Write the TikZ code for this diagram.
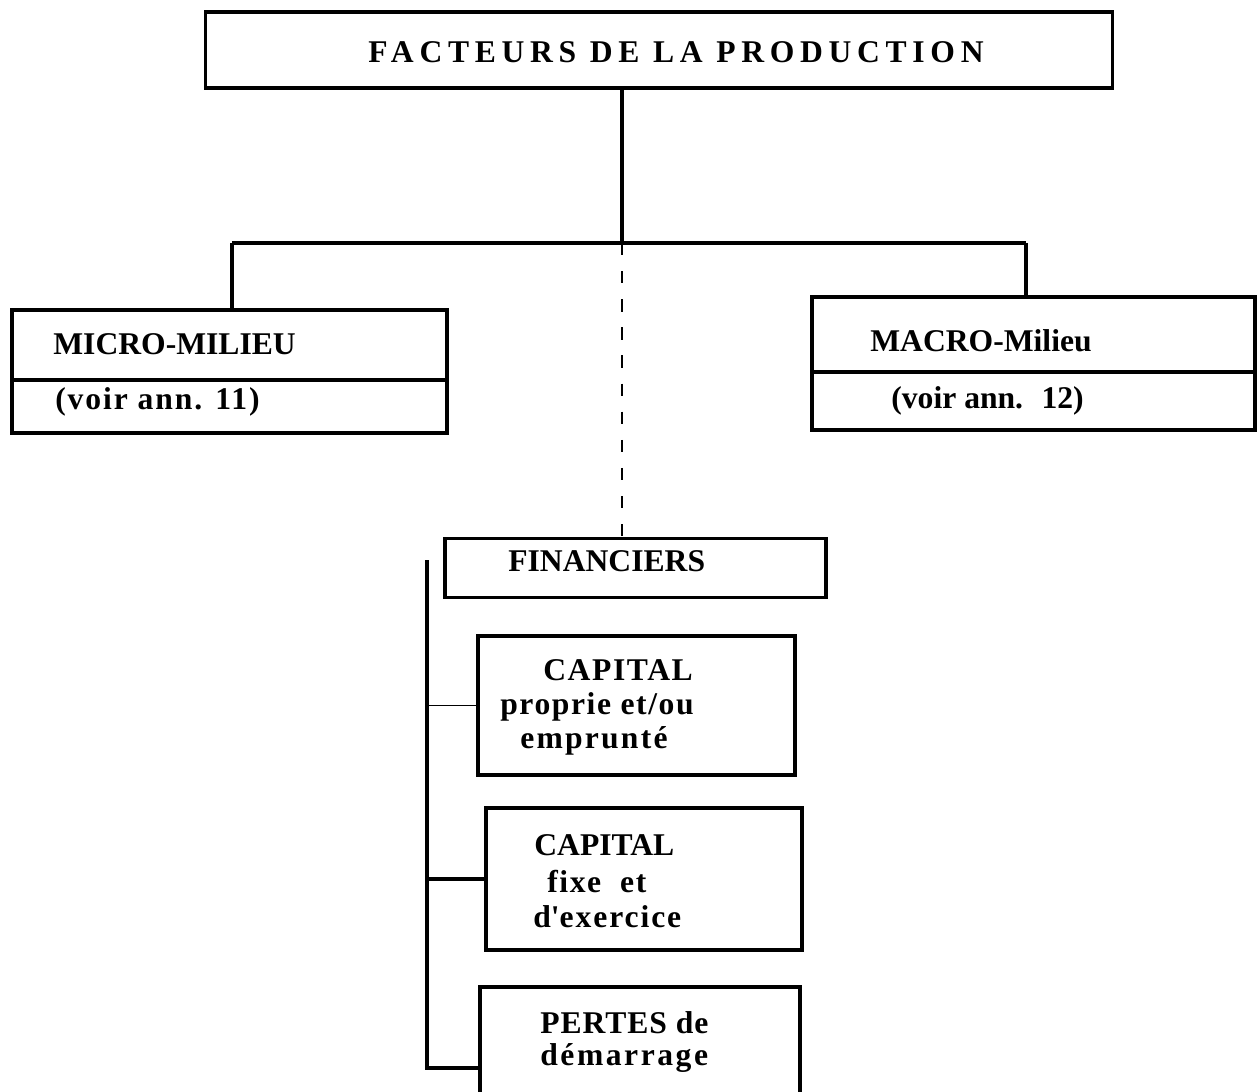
\documentclass[tikz,border=0pt]{standalone}
\usepackage{fontspec}
\setmainfont{Liberation Serif}
\usetikzlibrary{positioning}

\newcommand{\ls}[2]{{\addfontfeature{LetterSpace=#1}#2}}

\tikzset{
  box/.style={draw=black, line width=1.8pt, rectangle, inner sep=0pt},
  lbl/.style={font=\fontsize{18}{22}\selectfont\bfseries, text=black, inner sep=0pt, anchor=west},
  link/.style={draw=black, line width=1.8pt},
}

\begin{document}
\begin{tikzpicture}[x=0.02cm, y=-0.02cm]
\useasboundingbox (0,0) rectangle (1259,1092);

% boxes
\node[box, minimum width=18.16cm, minimum height=1.52cm] (top) at (659,50) {};
\node[box, minimum width=8.7cm, minimum height=2.46cm] (micro) at (229.5,371.5) {};
\node[box, minimum width=8.86cm, minimum height=2.66cm] (macro) at (1033.5,363.5) {};
\node[box, minimum width=7.62cm, minimum height=1.18cm] (fin) at (635.5,568) {};
\node[box, minimum width=6.34cm, minimum height=2.78cm] (capa) at (636.5,705.5) {};
\node[box, minimum width=6.32cm, minimum height=2.84cm] (capb) at (644,879) {};
\node[box, minimum width=6.4cm, minimum height=2.2cm] (pertes) at (640,1042) {};

% dividers
\draw[link] (micro.west |- 0,380) -- (micro.east |- 0,380);
\draw[link] (macro.west |- 0,372) -- (macro.east |- 0,372);

% labels
\node[lbl, anchor=center] (ttitle) at (676,52) {\ls{18}{FACTEURS DE LA PRODUCTION}};
\node[lbl] (tmicro) at (53,344) {MICRO-MILIEU};
\node[lbl] (tmicroref) at (55,402) {\ls{6}{(voir ann. 11)}};
\node[lbl] (tmacro) at (870,341) {MACRO-Milieu};
\node[lbl] (tmacroref) at (891,401) {(voir ann. \ 12)};
\node[lbl] (tfin) at (508,561) {FINANCIERS};
\node[lbl] (tcapa) at (543,670) {\ls{5}{CAPITAL}};
\node[lbl] (tcapaa) at (500,707) {\ls{5}{proprie et/ou}};
\node[lbl] (tcapab) at (520,741) {\ls{7}{emprunté}};
\node[lbl] (tcapb) at (534,845) {CAPITAL};
\node[lbl] (tcapba) at (547,882) {\ls{5}{fixe \ et}};
\node[lbl] (tcapbb) at (533,917) {\ls{6}{d\textquotesingle exercice}};
\node[lbl] (tpertes) at (540,1023) {\ls{3}{PERTES de}};
\node[lbl] (tpertesb) at (540,1058) {\ls{8}{démarrage}};

% connectors
\coordinate (hub) at (622,243);
\coordinate (busL) at (232,243);
\coordinate (busR) at (1026,243);
\draw[link] (top.south -| hub) -- (hub);
\draw[link] (busL) -- (busR);
\draw[link] (busL) -- (busL |- micro.north);
\draw[link] (busR) -- (busR |- macro.north);
\draw[black, line width=0.8pt, dash pattern=on 7pt off 9pt] (hub) -- (hub |- fin.north);

\coordinate (brT) at (427,560);
\coordinate (brB) at (427,1068);
\draw[link] (brT) -- (brB) -- (brB -| pertes.west);
\draw[black, line width=1pt] (brT |- capa.west) -- (capa.west);
\draw[link] (brT |- capb.west) -- (capb.west);

\end{tikzpicture}
\end{document}
